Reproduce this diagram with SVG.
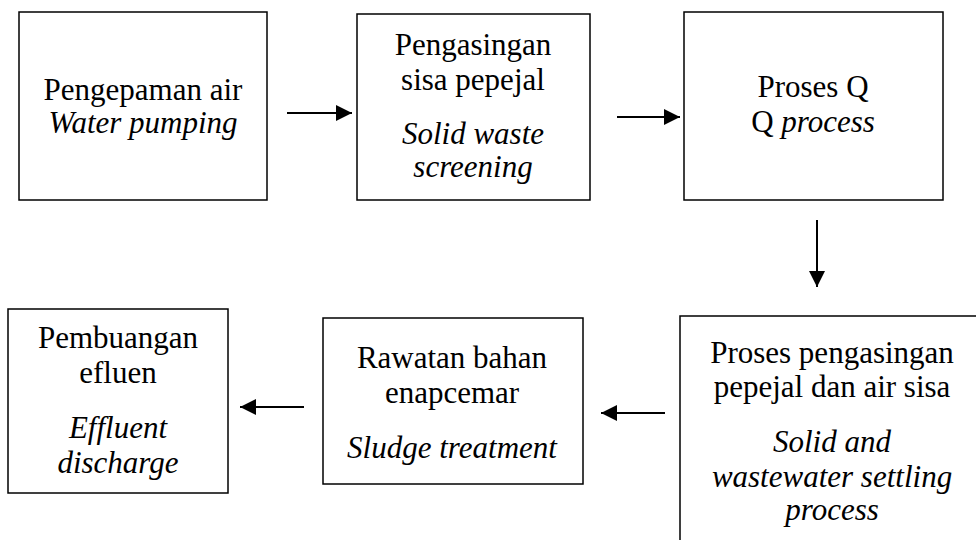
<svg xmlns="http://www.w3.org/2000/svg" width="976" height="540" viewBox="0 0 976 540">
<style>
.box{fill:#fff;stroke:#000;stroke-width:1.5}
.t{font-family:'Liberation Serif','Times New Roman',serif;font-size:31px;fill:#000;text-anchor:middle}
.i{font-style:italic}
.c{stroke:#000;stroke-width:2;fill:none}
</style>
<defs>
<marker id="ah" markerUnits="userSpaceOnUse" markerWidth="16" markerHeight="16" refX="16" refY="8" orient="auto">
<path d="M0,0 L16,8 L0,16 Z" fill="#000"/>
</marker>
</defs>
<rect width="976" height="540" fill="#fff"/>
<g id="n1">
<rect class="box" x="19" y="12" width="248" height="188"/>
<text class="t" x="143" y="100">Pengepaman air</text>
<text class="t i" x="143" y="133">Water pumping</text>
</g>
<g id="n2">
<rect class="box" x="357" y="14" width="233" height="186"/>
<text class="t" x="473" y="55">Pengasingan</text>
<text class="t" x="473" y="90">sisa pepejal</text>
<text class="t i" x="473" y="144">Solid waste</text>
<text class="t i" x="473" y="177">screening</text>
</g>
<g id="n3">
<rect class="box" x="684" y="12" width="259" height="188"/>
<text class="t" x="813" y="97">Proses Q</text>
<text class="t" x="813" y="132">Q <tspan class="i">process</tspan></text>
</g>
<g id="n4">
<rect class="box" x="680" y="316" width="310" height="240"/>
<text class="t" x="832" y="363">Proses pengasingan</text>
<text class="t" x="832" y="397">pepejal dan air sisa</text>
<text class="t i" x="832" y="452">Solid and</text>
<text class="t i" x="832" y="487">wastewater settling</text>
<text class="t i" x="832" y="520">process</text>
</g>
<g id="n5">
<rect class="box" x="323" y="318" width="260" height="166"/>
<text class="t" x="452" y="368">Rawatan bahan</text>
<text class="t" x="452" y="403">enapcemar</text>
<text class="t i" x="452" y="458">Sludge treatment</text>
</g>
<g id="n6">
<rect class="box" x="8" y="309" width="220" height="184"/>
<text class="t" x="118" y="348">Pembuangan</text>
<text class="t" x="118" y="383">efluen</text>
<text class="t i" x="118" y="438">Effluent</text>
<text class="t i" x="118" y="473">discharge</text>
</g>
<g id="connectors">
<line class="c" x1="287" y1="113" x2="352" y2="113" marker-end="url(#ah)"/>
<line class="c" x1="617" y1="117" x2="680" y2="117" marker-end="url(#ah)"/>
<line class="c" x1="817" y1="220" x2="817" y2="287" marker-end="url(#ah)"/>
<line class="c" x1="665" y1="413" x2="601" y2="413" marker-end="url(#ah)"/>
<line class="c" x1="304" y1="407" x2="240" y2="407" marker-end="url(#ah)"/>
</g>
</svg>
